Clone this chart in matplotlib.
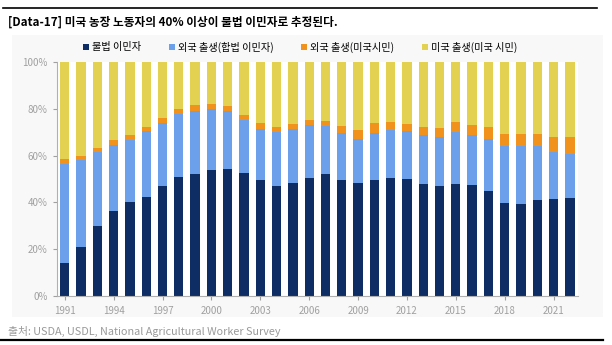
import matplotlib.pyplot as plt
import numpy as np
from matplotlib.patches import Rectangle
from matplotlib.lines import Line2D

plt.rcParams['font.family'] = ['Noto Sans CJK KR', 'DejaVu Sans']

# 연도
years = list(range(1991, 2023))

# 누적 비율 (%) - 각 계열의 상단 경계값을 그림에서 읽음
illegal = [13.9, 21.0, 30.0, 36.4, 40.4, 42.5, 46.9, 50.9, 52.1, 53.8, 54.5,
           52.8, 49.8, 47.2, 48.1, 50.5, 52.1, 49.8, 48.1, 49.5, 50.5, 50.2,
           47.8, 46.9, 47.8, 47.5, 44.9, 39.8, 39.3, 41.0, 41.4, 42.0]
legal_top = [56.6, 58.3, 61.6, 64.7, 66.9, 70.4, 74.0, 77.8, 78.9, 79.8, 78.9,
             75.4, 71.3, 70.1, 71.3, 73.3, 72.5, 69.6, 67.0, 69.7, 70.8, 70.4,
             68.7, 68.0, 70.1, 68.7, 67.1, 64.2, 64.0, 64.0, 61.7, 60.9]
citizen_top = [58.7, 59.7, 63.3, 66.9, 69.0, 72.3, 76.1, 79.9, 81.5, 82.1, 81.1,
               77.4, 74.0, 72.3, 73.7, 75.2, 74.8, 72.7, 71.0, 74.1, 74.5, 73.5,
               72.1, 71.7, 74.4, 73.0, 72.1, 69.3, 69.3, 69.3, 68.0, 67.9]

labels = ['불법 이민자', '외국 출생(합법 이민자)', '외국 출생(미국시민)', '미국 출생(미국 시민)']
colors = ['#0E2D64', '#6CA0EA', '#F0921C', '#E3D152']

illegal = np.array(illegal)
legal = np.array(legal_top) - illegal
foreign_citizen = np.array(citizen_top) - np.array(legal_top)
us_born = 100 - np.array(citizen_top)

fig = plt.figure(figsize=(6.12, 3.45), dpi=100)

# 배경 패널과 상/하단 선
panel = Rectangle((0.02, 0.08), 0.965, 0.82, transform=fig.transFigure,
                  facecolor='#F8F8F8', edgecolor='none')
panel.set_zorder(-1)
fig.add_artist(panel)
fig.add_artist(Line2D([0.005, 0.975], [0.977, 0.977], color='black', lw=1.2))
fig.add_artist(Line2D([0.0, 0.985], [0.015, 0.015], color='black', lw=1.6))

fig.text(0.013, 0.935, '[Data-17] 미국 농장 노동자의 40% 이상이 불법 이민자로 추정된다.',
         fontsize=8.4, fontweight='bold', va='center')
fig.text(0.013, 0.04, '출처: USDA, USDL, National Agricultural Worker Survey',
         fontsize=7.8, color='#9A9A9A', va='center')

ax = fig.add_axes([0.0925, 0.142, 0.852, 0.678])
ax.set_facecolor('white')

w = 0.57
ax.bar(years, illegal, w, color=colors[0], label=labels[0])
ax.bar(years, legal, w, bottom=illegal, color=colors[1], label=labels[1])
ax.bar(years, foreign_citizen, w, bottom=illegal + legal, color=colors[2], label=labels[2])
ax.bar(years, us_born, w, bottom=illegal + legal + foreign_citizen, color=colors[3], label=labels[3])

ax.set_xlim(1990.5, 2022.5)
ax.set_ylim(0, 100)
ax.set_yticks(range(0, 101, 20))
ax.set_yticklabels([f'{v}%' for v in range(0, 101, 20)])
ax.set_xticks(range(1991, 2023, 3))
ax.tick_params(colors='#A0A0A0', labelsize=7, length=3, width=0.8)
ax.tick_params(axis='x', pad=4)
for s in ['top', 'right']:
    ax.spines[s].set_visible(False)
for s in ['left', 'bottom']:
    ax.spines[s].set_color('#B0B0B0')

ax.legend(loc='lower center', bbox_to_anchor=(0.467, 1.015), ncol=4, frameon=False,
          fontsize=7.3, handlelength=0.6, handleheight=0.6, handletextpad=0.3,
          columnspacing=2.7, borderaxespad=0.2)

fig.savefig('out.png', dpi=100)
